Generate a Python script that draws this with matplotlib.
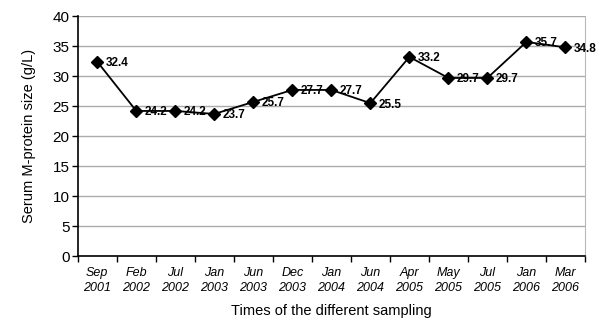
import matplotlib
matplotlib.use("Agg")
import matplotlib.pyplot as plt
import numpy as np

plt.rcParams['font.family'] = ['Liberation Sans', 'DejaVu Sans']

dates = ["Sep\n2001", "Feb\n2002", "Jul\n2002", "Jan\n2003", "Jun\n2003", "Dec\n2003",
         "Jan\n2004", "Jun\n2004", "Apr\n2005", "May\n2005", "Jul\n2005", "Jan\n2006", "Mar\n2006"]
mprotein = [32.4, 24.2, 24.2, 23.7, 25.7, 27.7, 27.7, 25.5, 33.2, 29.7, 29.7, 35.7, 34.8]
yticks = [0, 5, 10, 15, 20, 25, 30, 35, 40]

fig = plt.figure(figsize=(6.03, 3.23), dpi=100)
ax = fig.add_axes([0.129, 0.207, 0.841, 0.743])

x = np.arange(len(mprotein))
ax.plot(x, mprotein, color='black', lw=1.3, marker='D', ms=6, zorder=3)
for xi, v in zip(x, mprotein):
    ax.annotate(f"{v}", (xi, v), xytext=(6, -1), textcoords='offset points',
                ha='left', va='center', fontsize=8.5, fontweight='bold', zorder=4)

ax.set_xlim(-0.5, len(mprotein) - 0.5)
ax.set_ylim(0, 40)
ax.set_yticks(yticks)
ax.tick_params(axis='y', labelsize=11, length=4, width=1, pad=2)
ax.set_xticks(x)
ax.set_xticklabels(dates, fontstyle='italic', fontsize=9, linespacing=1.35)
ax.tick_params(axis='x', which='major', length=0, pad=8)
ax.set_xticks(np.arange(-0.5, len(mprotein)), minor=True)
ax.tick_params(axis='x', which='minor', length=4, width=1, direction='out')

ax.grid(axis='y', color='#ababab', lw=1)
ax.set_axisbelow(True)
ax.spines['top'].set_visible(False)
ax.spines['right'].set_color('#b8b8b8')
ax.spines['left'].set_linewidth(1.2)
ax.spines['bottom'].set_linewidth(1.2)

ax.set_ylabel("Serum M-protein size (g/L)", fontsize=10.5, labelpad=12)
ax.set_xlabel("Times of the different sampling", fontsize=10.5, labelpad=7)

fig.savefig("out.png", dpi=100)
